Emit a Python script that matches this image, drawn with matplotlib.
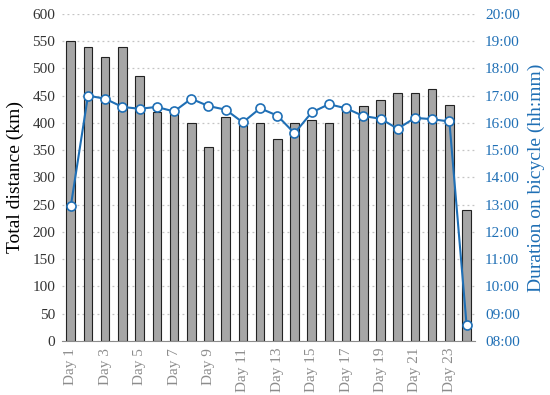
import numpy as np
import matplotlib.pyplot as plt
from matplotlib.ticker import FuncFormatter

plt.rcParams['font.family'] = ['Liberation Serif', 'DejaVu Serif']

days = ["Day %d" % i for i in range(1, 25)]
distance = [550, 540, 520, 540, 486, 420, 418, 400, 355, 410, 400, 400,
            370, 400, 406, 400, 430, 430, 441, 455, 455, 462, 432, 240]
duration = ["12:56", "17:00", "16:53", "16:35", "16:31", "16:35", "16:25", "16:53",
            "16:37", "16:29", "16:01", "16:32", "16:16", "15:37", "16:23", "16:41",
            "16:32", "16:15", "16:09", "15:47", "16:11", "16:08", "16:03", "08:35"]
hours = [int(t[:2]) + int(t[3:]) / 60 for t in duration]

blue = "#1f6fb5"
x = np.arange(len(days))

fig, ax = plt.subplots(figsize=(5.5, 3.95), dpi=100)
fig.subplots_adjust(left=0.113, right=0.864, bottom=0.137, top=0.965)

ax.bar(x, distance, width=0.5, color="#a6a6a6", edgecolor="#222222", linewidth=0.8, zorder=2)
ax.set_ylim(0, 600)
ax.set_yticks(range(0, 601, 50))
ax.set_xlim(-0.5, 23.5)
ax.set_xticks(x[::2])
ax.set_xticklabels(days[::2], rotation=90, color="#8c8c8c")
ax.set_ylabel("Total distance (km)", fontsize=14, labelpad=6)
ax.grid(axis="y", linestyle=(0, (1.5, 2.5)), color="#c4c4c4", linewidth=0.9, zorder=0)
ax.set_axisbelow(True)
for s in ["top", "left", "right"]:
    ax.spines[s].set_visible(False)
ax.spines["bottom"].set_color("#8c8c8c")
ax.tick_params(length=0, labelsize=11, colors="#333333", pad=5)
ax.tick_params(axis="x", colors="#8c8c8c", pad=5)

ax2 = ax.twinx()
ax2.plot(x, hours, color=blue, linewidth=1.5, marker="o", markersize=6.5,
         markerfacecolor="white", markeredgecolor=blue, markeredgewidth=1.2, zorder=3)
ax2.set_ylim(8, 20)
ax2.set_yticks(range(8, 21))
ax2.yaxis.set_major_formatter(FuncFormatter(lambda v, p: "%02d:00" % int(v)))
ax2.set_ylabel("Duration on bicycle (hh:mm)", fontsize=14, color=blue, labelpad=6)
for s in ["top", "left", "right", "bottom"]:
    ax2.spines[s].set_visible(False)
ax2.tick_params(length=0, labelsize=11, colors=blue, pad=7)

plt.savefig("out.png")
